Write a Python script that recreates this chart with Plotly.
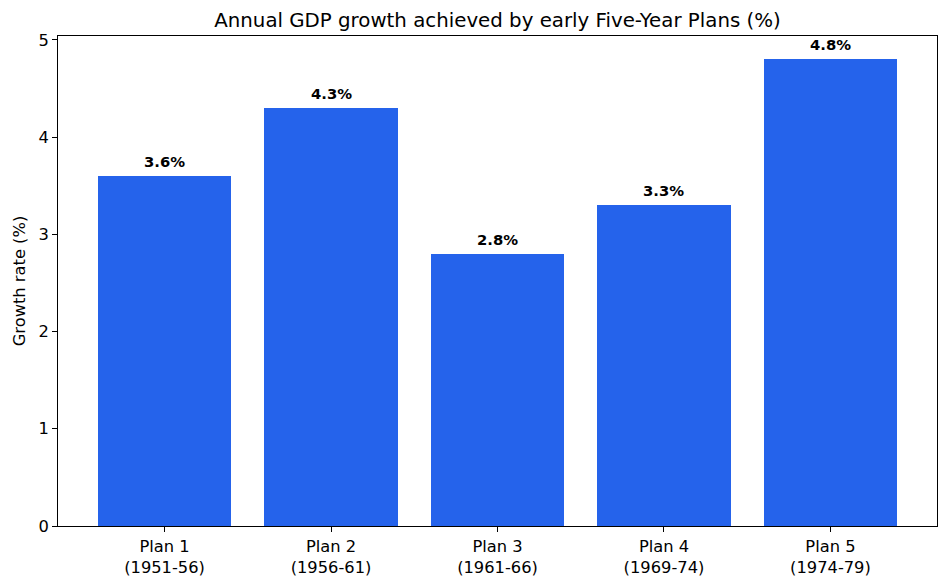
import plotly.graph_objects as go

plans = ["Plan 1<br>(1951-56)", "Plan 2<br>(1956-61)", "Plan 3<br>(1961-66)", "Plan 4<br>(1969-74)", "Plan 5<br>(1974-79)"]
growth = [3.6, 4.3, 2.8, 3.3, 4.8]
labels = [f"{v:.1f}%" for v in growth]
xpos = list(range(len(plans)))

fig = go.Figure()
fig.add_trace(go.Bar(x=xpos, y=growth, width=0.8, marker=dict(color="#2563EB", line=dict(width=0)),
                     hoverinfo="skip"))
for x, y, t in zip(xpos, growth, labels):
    fig.add_annotation(x=x, y=y, text=f"<b>{t}</b>", showarrow=False, yanchor="bottom", yshift=4,
                       font=dict(family="DejaVu Sans", size=14.8, color="black"))

fig.update_layout(
    width=949, height=588,
    margin=dict(l=58, r=12, t=36, b=62),
    paper_bgcolor="white", plot_bgcolor="white",
    font=dict(family="DejaVu Sans", size=16.3, color="black"),
    title=dict(text="Annual GDP growth achieved by early Five-Year Plans (%)", x=0.5, xref="paper",
               y=1 - 20/588, yanchor="middle", font=dict(size=19.8)),
    showlegend=False,
    bargap=0,
)
fig.update_xaxes(range=[-0.64, 4.64], tickmode="array", tickvals=xpos, ticktext=plans,
                 showline=True, linecolor="black", linewidth=1, mirror=True, ticks="outside",
                 ticklen=5, tickcolor="black", showgrid=False, zeroline=False, tickfont=dict(size=16.3))
fig.update_yaxes(range=[0, 5.04], tickvals=[0, 1, 2, 3, 4, 5], showline=True, linecolor="black",
                 linewidth=1, mirror=True, ticks="outside", ticklen=5, tickcolor="black",
                 showgrid=False, zeroline=False, title=dict(text="Growth rate (%)", font=dict(size=16.3), standoff=8),
                 tickfont=dict(size=16.3))
fig.write_html("out.html")
